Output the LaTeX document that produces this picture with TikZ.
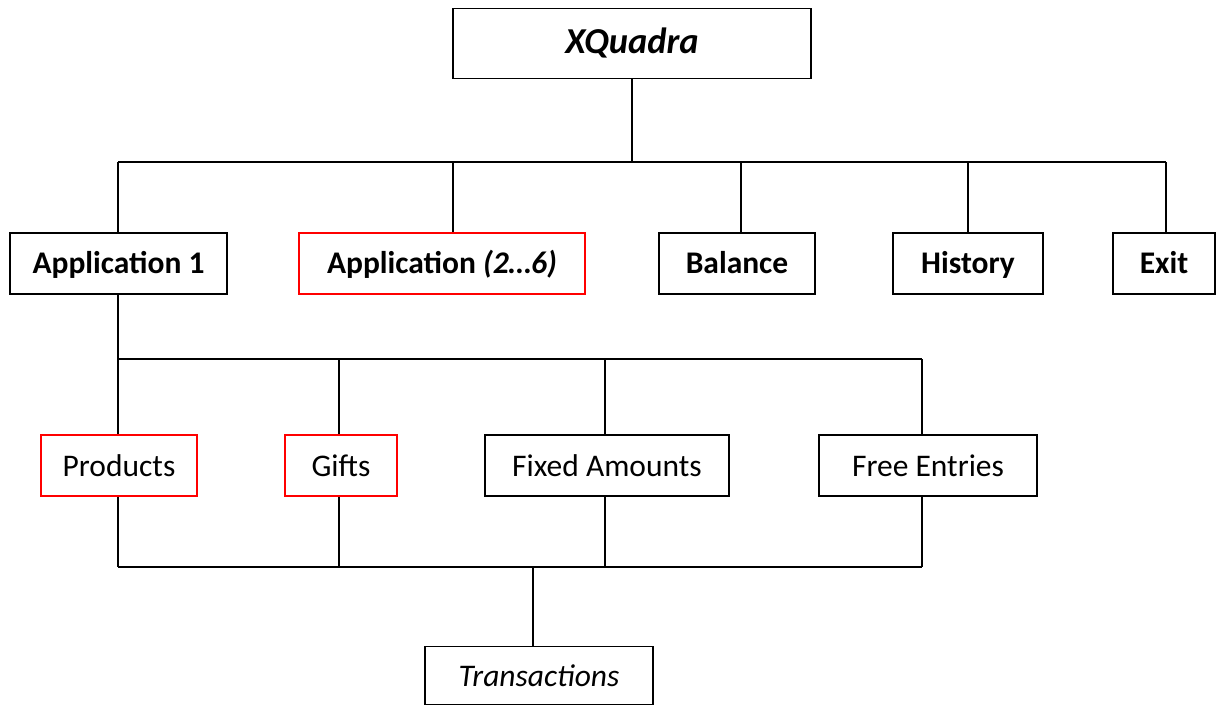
\documentclass[tikz,border=0pt]{standalone}
\usepackage{fontspec}
\setmainfont{Carlito}
\usetikzlibrary{positioning}

\tikzset{%
  modulo/.style={draw, line width=1.6pt, text centered, inner sep=0pt, minimum height=61pt, text height=23pt, text depth=3pt, font=\fontsize{31.5}{36}\selectfont\bfseries},
  principal/.style={modulo, minimum height=70pt, text height=25pt, text depth=5pt, font=\fontsize{36.5}{42}\selectfont\bfseries\itshape},
  funcao/.style={modulo, text height=24pt, text depth=3pt, font=\fontsize{31.5}{36}\selectfont},
  novo/.style={draw=red},
  liga/.style={draw, line width=1.6pt, color=black},
}

\begin{document}
\begin{tikzpicture}[x=1pt, y=-1pt]
\useasboundingbox (0,0) rectangle (1220,706);
\node[principal, minimum width=358pt] (xq) at (632,43.5) {XQuadra};
\node[modulo, minimum width=217pt] (app1) at (118.5,263.5) {Application 1};
\node[modulo, novo, minimum width=286pt] (appn) at (442,263.5) {Application \textit{(2\dots6)}};
\node[modulo, minimum width=156pt] (bal) at (737,263.5) {Balance};
\node[modulo, minimum width=150pt] (hist) at (968,263.5) {History};
\node[modulo, minimum width=102pt] (exit) at (1164,263.5) {Exit};
\node[funcao, novo, minimum width=156pt] (prod) at (119,465.5) {Products};
\node[funcao, novo, minimum width=112pt] (gift) at (341,465.5) {Gifts};
\node[funcao, minimum width=244pt] (fixo) at (607,465.5) {Fixed Amounts};
\node[funcao, minimum width=218pt] (livre) at (928,465.5) {Free Entries};
\node[funcao, font=\fontsize{31.5}{36}\selectfont\itshape, minimum width=228pt, minimum height=58pt] (trans) at (539,675.5) {Transactions};
\coordinate (menu) at (632,162);
\coordinate (sub) at (118,359);
\coordinate (junta) at (533,567);
\draw[liga] (xq.south -| menu) -- (menu);
\draw[liga] (118,162) -- (1166,162);
\foreach \n/\x in {app1/118, appn/453, bal/741, hist/968, exit/1166}
  \draw[liga] (\x,162) -- (\n.north -| \x,0);
\draw[liga] (app1.south -| sub) -- (sub);
\draw[liga] (sub) -- (922,359);
\draw[liga] (118,567) -- (922,567);
\foreach \n/\x in {prod/118, gift/339, fixo/605, livre/922} {
  \draw[liga] (\x,359) -- (\n.north -| \x,0);
  \draw[liga] (\n.south -| \x,0) -- (\x,567);
}
\draw[liga] (junta) -- (trans.north -| junta);
\end{tikzpicture}
\end{document}
